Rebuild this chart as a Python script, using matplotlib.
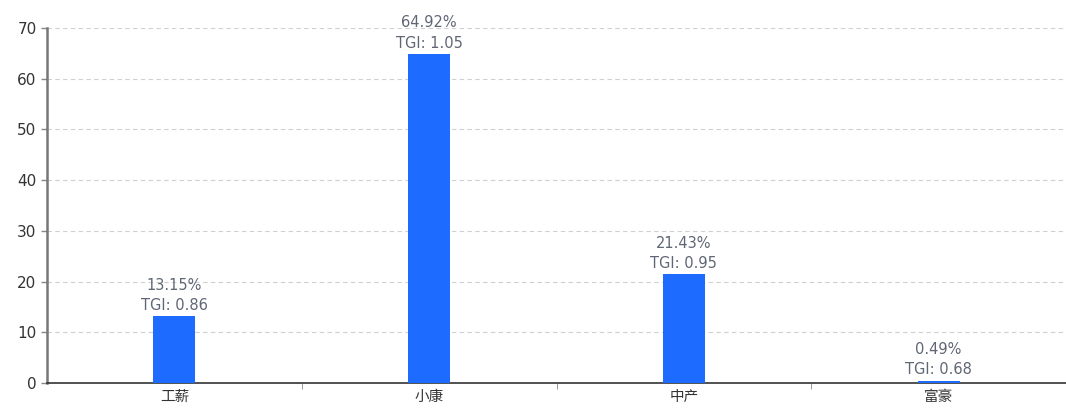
import numpy as np
import matplotlib.pyplot as plt

plt.rcParams['font.family'] = ['DejaVu Sans', 'Noto Sans CJK SC']

# 数据
categories = ['工薪', '小康', '中产', '富豪']
share = [13.15, 64.92, 21.43, 0.49]
tgi = [0.86, 1.05, 0.95, 0.68]

fig = plt.figure(figsize=(10.66, 4.09), dpi=100)
ax = fig.add_axes([47 / 1066, 1 - 383 / 409, 1019 / 1066, 355 / 409])

x = np.arange(len(categories))
bars = ax.bar(x, share, width=0.165, color='#1e6bff', zorder=3)

for xi, s, t in zip(x, share, tgi):
    ax.text(xi, s + 0.6, f'{s:.2f}%\nTGI: {t:.2f}', ha='center', va='bottom',
            fontsize=10.5, color='#5f6675', linespacing=1.45)

ax.set_xlim(-0.5, 3.5)
ax.set_ylim(0, 70)
ax.set_yticks(range(0, 71, 10))
ax.set_xticks(x)
ax.set_xticklabels(categories, fontsize=10.5, color='#333333',
                   family=['Noto Sans CJK SC'])
ax.set_xticks([0.5, 1.5, 2.5], minor=True)
ax.tick_params(axis='x', which='major', length=0, pad=5)
ax.tick_params(axis='x', which='minor', length=4, color='#888888')
ax.tick_params(axis='y', labelsize=11, labelcolor='#333333', length=4,
               color='#888888', width=1)

ax.grid(axis='y', linestyle=(0, (4, 3)), color='#d0d0d0', linewidth=0.8, zorder=0)
ax.spines['top'].set_visible(False)
ax.spines['right'].set_visible(False)
ax.spines['left'].set_color('#777777')
ax.spines['left'].set_linewidth(1.8)
ax.spines['bottom'].set_color('#333333')
ax.spines['bottom'].set_linewidth(1.2)

fig.savefig('out.png', dpi=100)
